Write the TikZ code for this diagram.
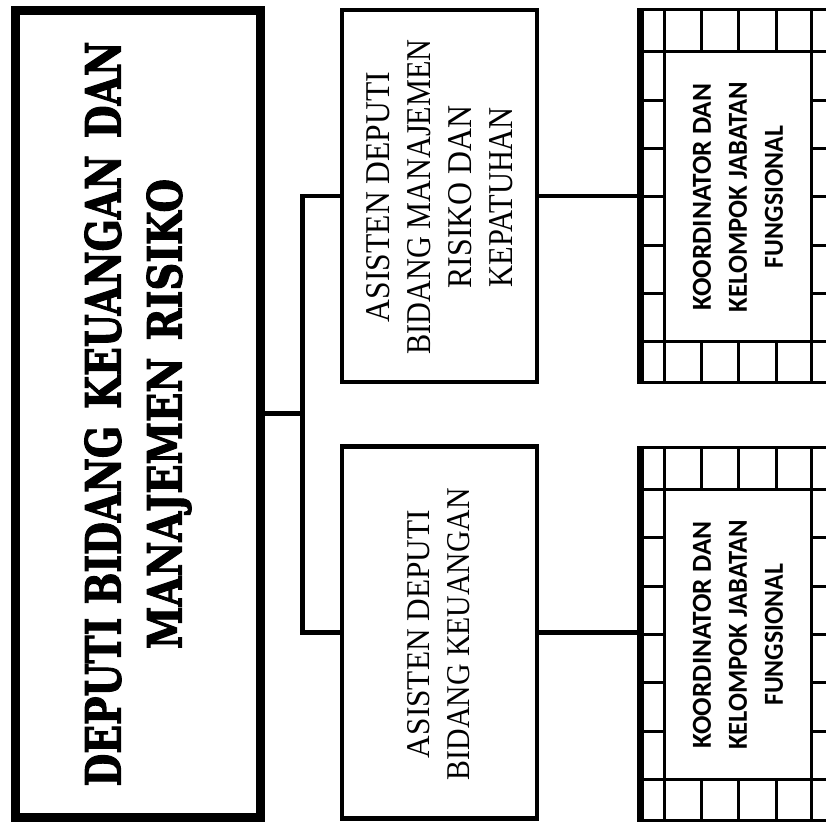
\documentclass[tikz,border=0pt]{standalone}
\usepackage{graphicx}
\usepackage{fontspec}
\setmainfont{Liberation Serif}
\newfontfamily\headfont{DejaVu Serif}[BoldFeatures={FakeBold=2.5}]
\newfontfamily\gridfont{Carlito}
\newcommand{\fitline}[3]{\resizebox{#1pt}{#2pt}{#3}}
\begin{document}
\begin{tikzpicture}[x=1pt,y=-1pt,line join=miter,
  mainbox/.style={draw,line width=9pt,rectangle,inner sep=0pt,minimum width=245pt,minimum height=807pt},
  asbox/.style={draw,line width=4.5pt,rectangle,inner sep=0pt,minimum width=195pt,minimum height=372pt},
  innerbox/.style={draw,line width=3pt,rectangle,inner sep=0pt,minimum width=147.7pt,minimum height=290pt},
  conn/.style={line width=4.5pt},
  gl/.style={line width=3pt},
  edge/.style={line width=7pt},
  vtext/.style={rotate=90,inner sep=0pt,align=center},
]
\fill[white] (0,0) rectangle (826,822);
\useasboundingbox (0,0) rectangle (826,822);

% main box
\node[mainbox] (main) at (137.5,413.5) {};
\node[vtext,font=\headfont\bfseries\fontsize{40}{61}\selectfont] (maintext) at (138,414)
  {\fitline{745}{36}{DEPUTI BIDANG\hspace{.45em}KEUANGAN\hspace{.45em}DAN}\\
   \fitline{470}{35}{MANAJEMEN\hspace{.45em}RISIKO}};

% assistant boxes
\node[asbox] (aA) at (439.5,196) {};
\node[asbox] (aB) at (439.5,632.5) {};
\node[vtext,font=\fontsize{30}{41}\selectfont] (aAtext) at (440,197)
  {\fitline{250}{23}{ASISTEN DEPUTI}\\
   \fitline{315}{23}{BIDANG MANAJEMEN}\\
   \fitline{183}{23}{RISIKO DAN}\\
   \fitline{180}{23}{KEPATUHAN}};
\node[vtext,font=\fontsize{30}{40}\selectfont] (aBtext) at (439,634)
  {\fitline{248}{22}{ASISTEN DEPUTI}\\
   \fitline{292}{22}{BIDANG KEUANGAN}};

% left connectors
\coordinate (j) at (302.5,414);
\draw[conn] (main.east) -- (main.east -| j);
\draw[conn] (aA.west) -| (j) |- (aB.west);

% grids
\foreach \T/\n in {9.5/1,447.3/2}{
  \begin{scope}[shift={(0,\T)}]
    \node[innerbox] (k\n) at (737.85,187.2) {};
    \node[vtext,font=\gridfont\bfseries\fontsize{24}{36}\selectfont] (k\n text) at (738,187.5)
      {\fitline{227}{18}{KOORDINATOR DAN}\\
       \fitline{230}{18}{KELOMPOK JABATAN}\\
       \fitline{142}{18}{FUNGSIONAL}};
    \draw[gl] (640,0) -- (826,0);
    \draw[gl] (640,373) -- (826,373);
    \draw[gl] (640,42.2) -- (664,42.2) (811.7,42.2) -- (826,42.2);
    \draw[gl] (640,332.2) -- (664,332.2) (811.7,332.2) -- (826,332.2);
    \draw[gl] (664,0) -- (664,42.2) (664,332.2) -- (664,373);
    \draw[gl] (811.7,0) -- (811.7,42.2) (811.7,332.2) -- (811.7,373);
    \foreach \x in {701.7,738.3,776.7}
      \draw[gl] (\x,0) -- (\x,42.2) (\x,332.2) -- (\x,373);
    \foreach \k in {1,...,5}
      \draw[gl] (640,42.2+48.33*\k) -- (664,42.2+48.33*\k)
                (811.7,42.2+48.33*\k) -- (826,42.2+48.33*\k);
    \draw[edge] (640,-1.5) -- (640,374.5);
    \coordinate (g\n) at (640,187.2);
  \end{scope}
}

% right connectors
\draw[conn] (aA.east) -- (aA.east -| g1);
\draw[conn] (aB.east) -- (aB.east -| g2);
\end{tikzpicture}
\end{document}
